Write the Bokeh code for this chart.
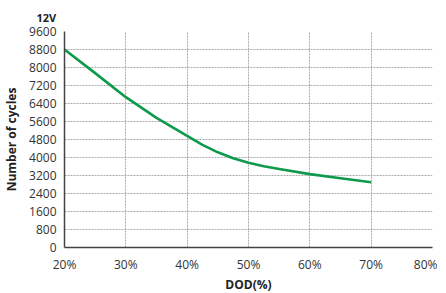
from bokeh.plotting import figure
from bokeh.models import FixedTicker
from bokeh.embed import file_html
from bokeh.resources import INLINE

dod = [20, 25, 30, 35, 40, 42.5, 45, 47.5, 50, 52.5, 55, 60, 65, 70]
cycles = [8800, 7750, 6680, 5760, 4960, 4560, 4230, 3970, 3770, 3610, 3490, 3260, 3080, 2900]
x_ticks = [20, 30, 40, 50, 60, 70, 80]
y_ticks = list(range(0, 9601, 800))

FONT = "Open Sans"

p = figure(frame_width=368, frame_height=216, output_backend="svg", toolbar_location=None,
           x_range=(20, 80), y_range=(0, 9600),
           min_border_left=57, min_border_right=5, min_border_top=24, min_border_bottom=0,
           title="12V")
p.outline_line_color = None
p.background_fill_color = "white"

p.title.align = "left"
p.title.offset = -28
p.title.text_font = FONT
p.title.text_font_size = "11px"
p.title.text_font_style = "bold"
p.title.text_color = "#222222"
p.title.standoff = 14

p.line(dod, cycles, line_color="#0e9a4b", line_width=2.6, line_join="round")

p.xaxis.ticker = FixedTicker(ticks=x_ticks)
p.yaxis.ticker = FixedTicker(ticks=y_ticks)
p.xaxis.major_label_overrides = {t: f"{t}%" for t in x_ticks}
for ax in (p.xaxis, p.yaxis):
    ax.axis_line_color = "#444444"
    ax.axis_line_width = 1.5
    ax.major_tick_line_color = None
    ax.minor_tick_line_color = None
    ax.major_label_text_font = FONT
    ax.major_label_text_font_size = "12px"
    ax.major_label_text_color = "#333333"
    ax.axis_label_text_font = FONT
    ax.axis_label_text_font_size = "12px"
    ax.axis_label_text_font_style = "bold"
    ax.axis_label_text_color = "#222222"
p.xaxis.axis_label = "DOD(%)"
p.yaxis.axis_label = "Number of cycles"
p.xaxis.major_label_standoff = 2
p.yaxis.major_label_standoff = 2
p.xaxis.axis_label_standoff = 0
p.yaxis.axis_label_standoff = 6

for g in (p.xgrid, p.ygrid):
    g.grid_line_color = "#aaaaaa"
    g.grid_line_dash = "2 1"
    g.grid_line_width = 1

open("out.html", "w").write(file_html(p, INLINE))
